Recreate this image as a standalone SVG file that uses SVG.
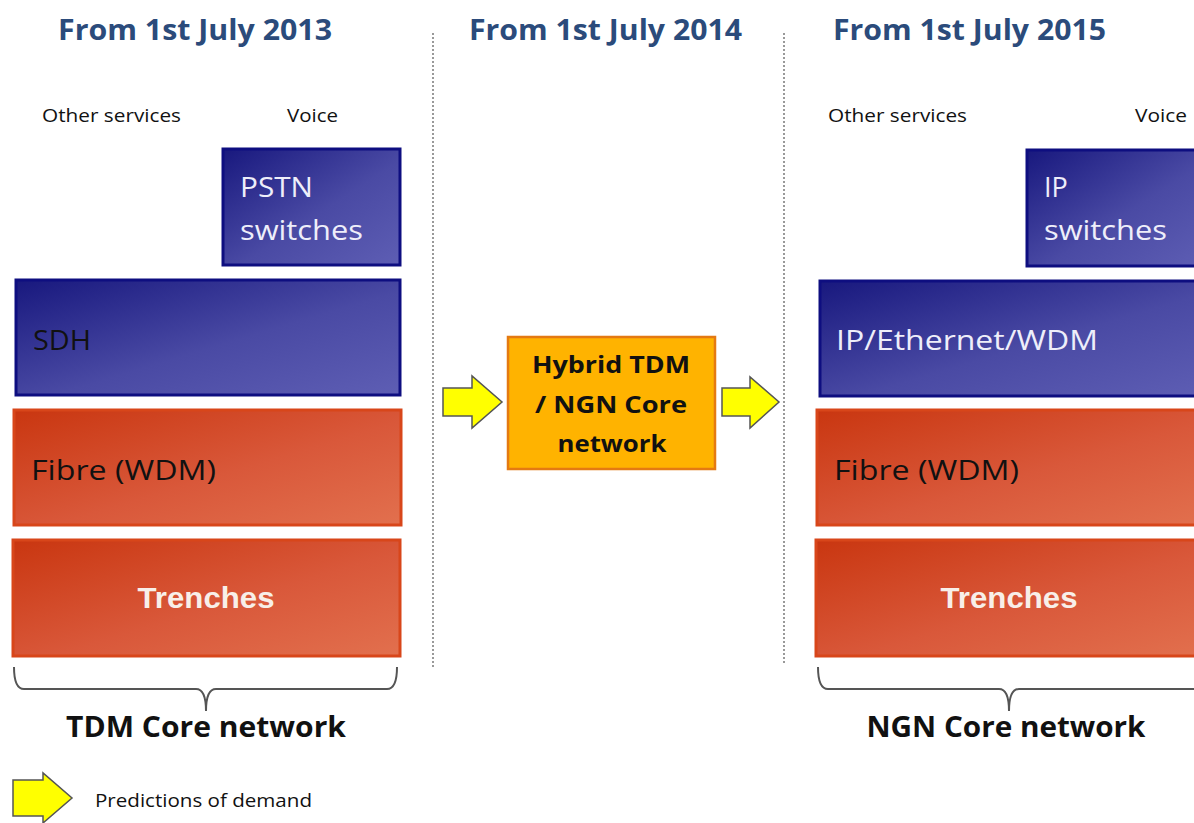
<svg xmlns="http://www.w3.org/2000/svg" width="1194" height="823" viewBox="0 0 1194 823">
<defs>
<linearGradient id="gBlue" x1="0" y1="0" x2="1" y2="1">
<stop offset="0" stop-color="#18187e"/>
<stop offset="0.55" stop-color="#4a4aa4"/>
<stop offset="1" stop-color="#5e5eb4"/>
</linearGradient>
<linearGradient id="gOrange" x1="0" y1="0" x2="1" y2="1">
<stop offset="0" stop-color="#c93610"/>
<stop offset="0.55" stop-color="#d9583a"/>
<stop offset="1" stop-color="#e2704e"/>
</linearGradient>
</defs>
<style>
.hdr{font-family:"Open Sans","Noto Sans",sans-serif;font-weight:700;font-size:28px;fill:#2b4b7b}
.col{font-family:"Open Sans","Noto Sans",sans-serif;font-size:18.5px;fill:#111}
.blue{fill:url(#gBlue);stroke:#0e0e80;stroke-width:3}
.orange{fill:url(#gOrange);stroke:#d8461a;stroke-width:3}
.lbl{font-family:"Open Sans","Noto Sans",sans-serif;font-size:27px}
.wt{fill:#eeeefa}
.bk{fill:#111}
.tr{font-family:"Liberation Sans",Arial,sans-serif;font-weight:700;font-size:29px;fill:#f8efe9}
.hyb{font-family:"Open Sans","Noto Sans",sans-serif;font-weight:700;font-size:24px;fill:#111}
.core{font-family:"Open Sans","Noto Sans",sans-serif;font-weight:700;font-size:29px;fill:#111}
.arr{fill:#ffff00;stroke:#555;stroke-width:1.5;stroke-linejoin:miter}
.brk{fill:none;stroke:#555;stroke-width:2}
.div{stroke:#999;stroke-width:2;stroke-dasharray:2 2}
</style>
<rect width="1194" height="823" fill="#fff"/>

<g id="dividers">
<line class="div" x1="433" y1="33" x2="433" y2="667"/>
<line class="div" x1="784" y1="33" x2="784" y2="663"/>
</g>

<g id="headers">
<text class="hdr" x="58" y="40" textLength="274" lengthAdjust="spacingAndGlyphs">From 1st July 2013</text>
<text class="hdr" x="469" y="40" textLength="273" lengthAdjust="spacingAndGlyphs">From 1st July 2014</text>
<text class="hdr" x="833" y="40" textLength="273" lengthAdjust="spacingAndGlyphs">From 1st July 2015</text>
<text class="col" x="42" y="122" textLength="139" lengthAdjust="spacingAndGlyphs">Other services</text>
<text class="col" x="287" y="122" textLength="51" lengthAdjust="spacingAndGlyphs">Voice</text>
<text class="col" x="828" y="122" textLength="139" lengthAdjust="spacingAndGlyphs">Other services</text>
<text class="col" x="1135" y="122" textLength="52" lengthAdjust="spacingAndGlyphs">Voice</text>
</g>

<g id="pstn">
<rect class="blue" x="223" y="149" width="177" height="116"/>
<text class="lbl wt" x="240" y="197" textLength="73" lengthAdjust="spacingAndGlyphs">PSTN</text>
<text class="lbl wt" x="240" y="240" textLength="123" lengthAdjust="spacingAndGlyphs">switches</text>
</g>
<g id="sdh">
<rect class="blue" x="16" y="280" width="384" height="115"/>
<text class="lbl bk" x="33" y="350" textLength="58" lengthAdjust="spacingAndGlyphs">SDH</text>
</g>
<g id="fibre-left">
<rect class="orange" x="14" y="410" width="387" height="115"/>
<text class="lbl bk" x="31" y="480" textLength="185" lengthAdjust="spacingAndGlyphs">Fibre (WDM)</text>
</g>
<g id="trenches-left">
<rect class="orange" x="13" y="540" width="387" height="116"/>
<text class="tr" x="206" y="608" text-anchor="middle" textLength="137" lengthAdjust="spacingAndGlyphs">Trenches</text>
</g>
<g id="tdm-core">
<text class="core" x="206" y="737" text-anchor="middle" textLength="280" lengthAdjust="spacingAndGlyphs">TDM Core network</text>
</g>

<g id="hybrid">
<rect x="508" y="337" width="207" height="132" fill="#ffb300" stroke="#e47a12" stroke-width="2.5"/>
<text class="hyb" x="611" y="373" text-anchor="middle" textLength="158" lengthAdjust="spacingAndGlyphs">Hybrid TDM</text>
<text class="hyb" x="611" y="413" text-anchor="middle" textLength="152" lengthAdjust="spacingAndGlyphs">/ NGN Core</text>
<text class="hyb" x="612" y="452" text-anchor="middle" textLength="109" lengthAdjust="spacingAndGlyphs">network</text>
</g>

<g id="ip-switches">
<rect class="blue" x="1027" y="150" width="180" height="116"/>
<text class="lbl wt" x="1044" y="197">IP</text>
<text class="lbl wt" x="1044" y="240" textLength="123" lengthAdjust="spacingAndGlyphs">switches</text>
</g>
<g id="ip-ethernet">
<rect class="blue" x="820" y="281" width="390" height="115"/>
<text class="lbl wt" x="836" y="350" textLength="262" lengthAdjust="spacingAndGlyphs">IP/Ethernet/WDM</text>
</g>
<g id="fibre-right">
<rect class="orange" x="817" y="410" width="390" height="115"/>
<text class="lbl bk" x="834" y="480" textLength="185" lengthAdjust="spacingAndGlyphs">Fibre (WDM)</text>
</g>
<g id="trenches-right">
<rect class="orange" x="816" y="540" width="390" height="116"/>
<text class="tr" x="1009" y="608" text-anchor="middle" textLength="137" lengthAdjust="spacingAndGlyphs">Trenches</text>
</g>
<g id="ngn-core">
<text class="core" x="1006" y="737" text-anchor="middle" textLength="279" lengthAdjust="spacingAndGlyphs">NGN Core network</text>
</g>

<g id="connectors">
<polygon class="arr" points="443,388 472,388 472,376 502,402 472,428 472,416 443,416"/>
<polygon class="arr" points="722,388 750,388 750,377 779,402 750,428 750,416 722,416"/>
<path class="brk" d="M14 667 Q14 689 24 689 L196 689 Q206 689 206 711 Q206 689 216 689 L387 689 Q397 689 397 667"/>
<path class="brk" d="M818 667 Q818 689 828 689 L999 689 Q1009 689 1009 711 Q1009 689 1019 689 L1200 689"/>
</g>

<g id="legend">
<polygon class="arr" points="13,780 43,780 43,773 72,798 43,823 43,816 13,816"/>
<text class="col" x="95" y="807" textLength="217" lengthAdjust="spacingAndGlyphs">Predictions of demand</text>
</g>
</svg>
